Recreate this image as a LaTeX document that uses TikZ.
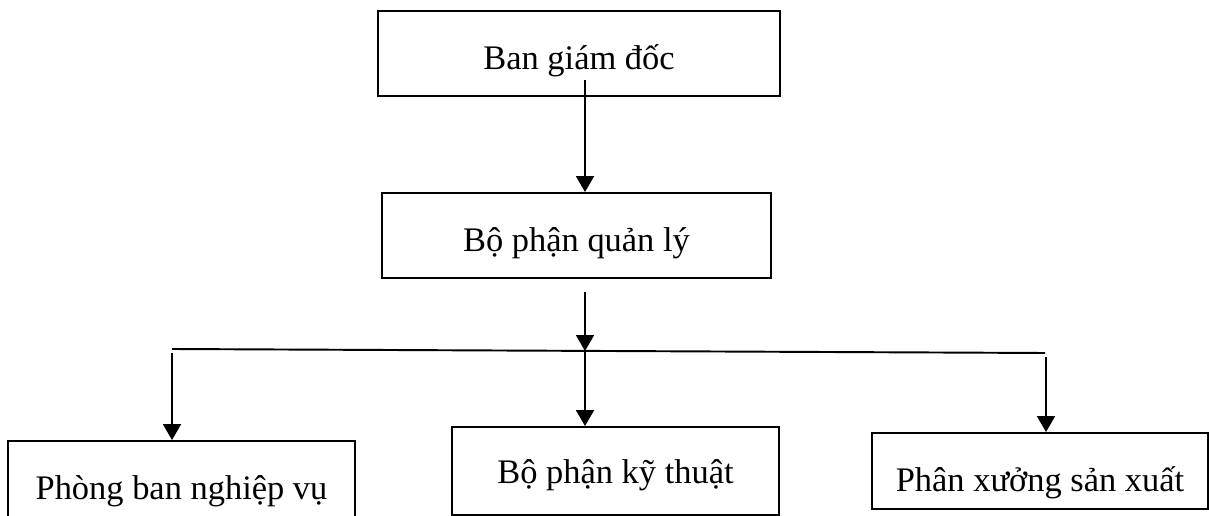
\documentclass[tikz,border=0pt]{standalone}
\usepackage{fontspec}
\setmainfont{Liberation Serif}
\usetikzlibrary{positioning, arrows.meta}

\begin{document}
\begin{tikzpicture}[
    x=0.02cm, y=-0.02cm,
    box/.style={draw, line width=1.1pt, inner sep=0pt, font=\fontsize{19.6}{23}\selectfont, text depth=0.1cm},
    arrow/.style={-{Triangle[length=0.32cm, width=0.36cm]}, line width=1.1pt},
    bus/.style={line width=1.1pt}
]
\useasboundingbox (0,0) rectangle (1209,516);
\clip (0,0) rectangle (1209,516);

% === TOP LEVEL ===
\node[box, minimum width=8.04cm, minimum height=1.70cm, text height=0.76cm] (gd) at (579, 53.5) {Ban giám đốc};
\node[box, minimum width=7.78cm, minimum height=1.70cm, text height=0.76cm] (ql) at (576.5, 235.5) {Bộ phận quản lý};

\coordinate (gdout) at (585, 80);
\draw[arrow] (gdout) -- (gdout |- ql.north);

% === BRANCH LINE ===
\coordinate (qlout) at (585, 292);
\coordinate (busM) at (585, 351);
\coordinate (busL) at (172, 349);
\coordinate (busR) at (1045, 353);

\draw[arrow] (qlout) -- (busM);
\draw[bus] (busL) -- (busR);

% === BOTTOM LEVEL ===
\node[box, minimum width=6.94cm, minimum height=1.78cm, text height=0.68cm] (nv) at (181.5, 485.5) {Phòng ban nghiệp vụ};
\node[box, minimum width=6.54cm, minimum height=1.76cm, text height=0.62cm] (kt) at (615.5, 471) {Bộ phận kỹ thuật};
\node[box, minimum width=6.72cm, minimum height=1.52cm, text height=0.94cm] (sx) at (1040, 471) {Phân xưởng sản xuất};

\coordinate (nvin) at (172, 353);
\coordinate (sxin) at (1046, 357);

\draw[arrow] (nvin) -- (nvin |- nv.north);
\draw[arrow] (busM) -- (busM |- kt.north);
\draw[arrow] (sxin) -- (sxin |- sx.north);

\end{tikzpicture}
\end{document}
